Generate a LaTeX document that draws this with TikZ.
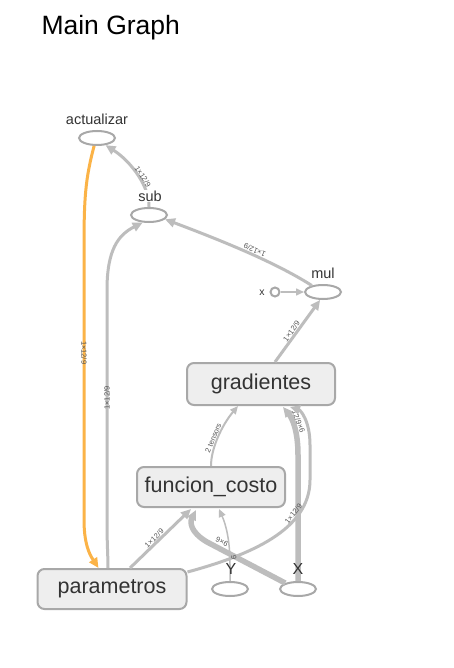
\documentclass[tikz,border=0pt]{standalone}
\usepackage{fontspec}
\setmainfont{Liberation Sans}
\usetikzlibrary{arrows.meta,shapes.geometric,calc}
\definecolor{edgegray}{HTML}{BDBDBD}
\definecolor{boxborder}{HTML}{A8A8A8}
\definecolor{boxfill}{HTML}{EEEEEE}
\definecolor{txt}{HTML}{333333}
\definecolor{orng}{HTML}{FBB347}
\definecolor{lbl}{HTML}{555555}
\begin{document}
\begin{tikzpicture}[x=1pt,y=-1pt,
  opbox/.style={draw=boxborder, fill=boxfill, line width=2pt, rounded corners=7pt,
    minimum width=148pt, minimum height=42pt, inner sep=0pt,
    font=\fontsize{21.5}{21.5}\selectfont, text=txt},
  ell/.style={ellipse, draw=boxborder, line width=2pt, minimum width=36pt,
    minimum height=14pt, inner sep=0pt},
  smallcirc/.style={circle, draw=boxborder, line width=2pt, minimum size=9pt, inner sep=0pt},
  nlabel/.style={font=\fontsize{14.5}{14.5}\selectfont, text=txt, inner sep=0pt},
  flow/.style={draw=edgegray, line width=3pt, -{Triangle[length=10pt,width=9pt]}},
  thickflow/.style={draw=edgegray, line width=5.5pt, -{Triangle[length=10pt,width=9pt]}},
  thinflow/.style={draw=edgegray, line width=1.5pt, -{Triangle[length=8pt,width=7pt]}},
  refflow/.style={draw=orng, line width=3pt, -{Triangle[length=10pt,width=9pt]}},
  elabel/.style={font=\fontsize{7.5}{7.5}\selectfont, text=lbl, sloped, inner sep=0.5pt}
]
\useasboundingbox (0,0) rectangle (454,668);
\fill[white] (0,0) rectangle (454,668);

\node[anchor=west, font=\fontsize{26.5}{26.5}\selectfont, text=black] (title) at (38,28) {Main Graph};

% nodes
\node[ell] (actualizar) at (97,138) {};
\node[ell] (sub) at (149,215) {};
\node[ell] (mul) at (323,292) {};
\node[smallcirc] (xc) at (275,292) {};
\node[opbox] (gradientes) at (261,384) {gradientes};
\node[opbox, minimum height=40pt] (funcion) at (211,487) {funcion\_costo};
\node[opbox, minimum width=149pt, minimum height=40pt] (parametros) at (112,589) {parametros};
\node[ell] (Y) at (230,589) {};
\node[ell] (X) at (298,589) {};

% edges
\draw[refflow] (actualizar.250) .. controls (85,180) and (84,200) .. (84,250)
  -- node[elabel, pos=0.38] {1×12/9} (84,520) .. controls (84,548) and (92,558) .. ($(parametros.north west)+(62,0)$);
\draw[flow] ($(parametros.north)+(-4,0)$) .. controls (108,556) and (107,545) .. (107,520)
  -- node[elabel, pos=0.53] {1×12/9} (107,290) .. controls (107,250) and (118,235) .. (sub.230);
\draw[flow] (sub.north) .. controls (150,188) and (132,162) .. (actualizar.-40)
  node[elabel, pos=0.45, above=-1pt] {1×12/9};
\draw[flow] (mul.150) .. controls (275,262) and (220,240) .. (sub.-15)
  node[elabel, pos=0.45, below=0pt, allow upside down] {1×12/9};
\draw[thinflow] (xc.east) -- (mul.west);
\draw[flow] ($(gradientes.north)+(14,0)$) -- node[elabel, pos=0.45, above=0pt] {1×12/9} (mul.-110);
\draw[thinflow, line width=2pt] (funcion.north) .. controls (211,448) and (222,425) .. ($(gradientes.south)+(-23,0)$)
  node[elabel, pos=0.45, above=0pt] {2 tensors};
\draw[thickflow] (X.north) -- (298,455) .. controls (298,430) and (292,418) .. ($(gradientes.south)+(22,1)$)
  node[elabel, pos=0.55, above=0pt] {12/9×6};
\draw[flow] ($(parametros.east)+(0,-17)$) .. controls (250,555) and (310,530) .. (310,480)
  node[elabel, pos=0.72, above=0pt] {1×12/9}
  -- (310,445) .. controls (310,420) and (300,410) .. ($(gradientes.south)+(29,1)$);
\draw[flow] ($(parametros.north)+(18,0)$) -- node[elabel, pos=0.45, above=0pt] {1×12/9} ($(funcion.south)+(-20,1)$);
\draw[thickflow] (X.155) -- node[elabel, pos=0.85, below=1pt, allow upside down] {9×6} (207,542)
  .. controls (190,532) and (190,522) .. ($(funcion.south)+(-15,2)$);
\draw[thinflow] (Y.north) -- (230,565) .. controls (230,540) and (226,525) .. ($(funcion.south)+(8,1)$)
  node[elabel, pos=0.1, above=0pt] {9};

% labels
\node[nlabel] (actlbl) at (97,119) {actualizar};
\node[nlabel, fill=white, inner sep=1pt] (sublbl) at (150,196) {sub};
\node[nlabel] (mullbl) at (323,273) {mul};
\node[nlabel, font=\fontsize{10.5}{10.5}\selectfont] (xlbl) at (262,293) {x};
\node[nlabel, font=\fontsize{16}{16}\selectfont] (Ylbl) at (231,569) {Y};
\node[nlabel, font=\fontsize{16}{16}\selectfont] (Xlbl) at (298,569) {X};
\end{tikzpicture}
\end{document}
